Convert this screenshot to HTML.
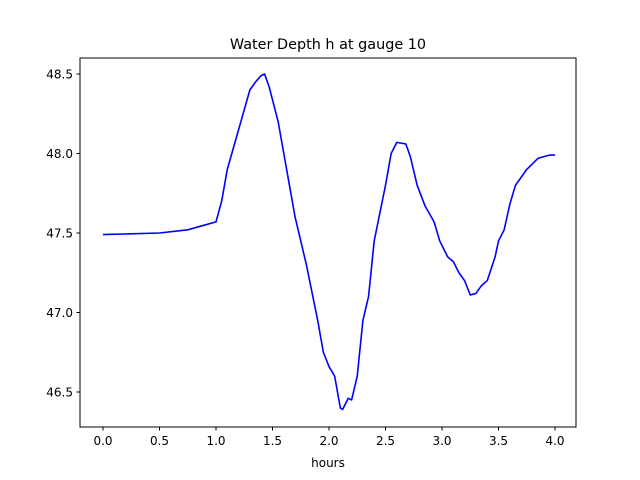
<!DOCTYPE html>
<html><head><meta charset="utf-8"><style>body{margin:0;background:#fff}svg{display:block;font-family:"DejaVu Sans","Liberation Sans",sans-serif}</style></head>
<body>
<svg id="chart" width="640" height="480" viewBox="0 0 640 480">
<rect width="640" height="480" fill="#fff"/>
<text x="328" y="49" text-anchor="middle" font-size="14.4">Water Depth h at gauge 10</text>
<g id="plot"></g>
<rect x="80" y="58" width="496" height="369" fill="none" stroke="#000" stroke-width="1"/>
<text x="328" y="467" text-anchor="middle" font-size="12">hours</text>
</svg>
<script>
const times=[0,0.5,0.75,0.9,1.0,1.05,1.1,1.2,1.3,1.35,1.4,1.43,1.47,1.55,1.65,1.7,1.8,1.9,1.95,2.0,2.05,2.1,2.12,2.17,2.2,2.25,2.3,2.35,2.4,2.5,2.55,2.6,2.68,2.72,2.78,2.85,2.93,2.98,3.05,3.1,3.15,3.2,3.25,3.3,3.35,3.4,3.47,3.5,3.55,3.6,3.65,3.75,3.85,3.95,4.0];
const depths=[47.49,47.50,47.52,47.55,47.57,47.7,47.9,48.15,48.4,48.45,48.49,48.5,48.42,48.2,47.8,47.6,47.3,46.95,46.75,46.66,46.6,46.4,46.39,46.46,46.45,46.6,46.95,47.1,47.45,47.8,48.0,48.07,48.06,47.98,47.8,47.67,47.57,47.45,47.35,47.32,47.25,47.2,47.11,47.12,47.17,47.2,47.35,47.45,47.52,47.68,47.8,47.9,47.97,47.99,47.99];
const xTicks=[0,0.5,1.0,1.5,2.0,2.5,3.0,3.5,4.0];
const xTickLabels=["0.0","0.5","1.0","1.5","2.0","2.5","3.0","3.5","4.0"];
const yTicks=[46.5,47.0,47.5,48.0,48.5];
const yTickLabels=["46.5","47.0","47.5","48.0","48.5"];
const X=t=>103+t*113, Y=h=>392-(h-46.5)*159;
const g=document.getElementById('plot'),NS='http://www.w3.org/2000/svg';
function mk(tag,a){const e=document.createElementNS(NS,tag);for(const k in a)e.setAttribute(k,a[k]);g.appendChild(e);return e;}
xTicks.forEach((t,i)=>{
 const l=mk('line',{x1:X(t),x2:X(t),y1:427,y2:430.5,stroke:'#000'});
 
 
 const tx=mk('text',{x:X(t),y:445,'text-anchor':'middle','font-size':12});tx.textContent=xTickLabels[i];
 
 
});
yTicks.forEach((h,i)=>{
 const l=mk('line',{x1:76.5,x2:80,y1:Y(h),y2:Y(h),stroke:'#000'});
 
 
 const tx=mk('text',{x:73,y:Y(h)+4.5,'text-anchor':'end','font-size':12});tx.textContent=yTickLabels[i];
 
 
});
const p=mk('polyline',{points:times.map((t,i)=>X(t)+','+Y(depths[i])).join(' '),fill:'none',stroke:'#0000ff','stroke-width':1.6,'stroke-linejoin':'round'});


</script>
</body></html>
